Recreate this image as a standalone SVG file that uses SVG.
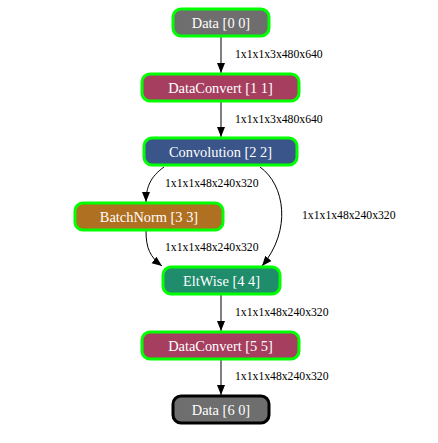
<svg xmlns="http://www.w3.org/2000/svg" width="438" height="443" viewBox="0 0 438 443">
<style>
.n rect{stroke:#00ff00;stroke-width:3}
.n text{font-size:14.4px;fill:#ffffff;text-anchor:middle}
.e path{fill:none;stroke:#000000;stroke-width:1}
.e text{font-size:11.7px;fill:#000000}
</style>
<defs>
<marker id="ah" viewBox="0 0 10 10" refX="10" refY="5" markerWidth="10" markerHeight="10" markerUnits="userSpaceOnUse" orient="auto">
<path d="M0,1 L10,5 L0,9 Z" fill="#000000"/>
</marker>
</defs>
<rect width="438" height="443" fill="#ffffff"/>
<g font-family="Liberation Serif, Times New Roman, DejaVu Serif, serif">
<g id="edges" class="e">
<path d="M221,37 L221,73" marker-end="url(#ah)"/>
<text x="235" y="58">1x1x1x3x480x640</text>
<path d="M221,102 L221,137" marker-end="url(#ah)"/>
<text x="235" y="123">1x1x1x3x480x640</text>
<path d="M164,167 C150,177 146,188 146,202" marker-end="url(#ah)"/>
<text x="165" y="187">1x1x1x48x240x320</text>
<path d="M260,167 C285,185 292,230 262,266" marker-end="url(#ah)"/>
<text x="302" y="219">1x1x1x48x240x320</text>
<path d="M146,231 C146,248 150,257 162,266" marker-end="url(#ah)"/>
<text x="165" y="251">1x1x1x48x240x320</text>
<path d="M221,295 L221,331" marker-end="url(#ah)"/>
<text x="235" y="316">1x1x1x48x240x320</text>
<path d="M221,360 L221,395" marker-end="url(#ah)"/>
<text x="235" y="380">1x1x1x48x240x320</text>
</g>
<g id="n0" class="n"><rect x="173" y="9" width="96" height="27" rx="8" fill="#6e6e6e"/><text x="221" y="27.5">Data [0 0]</text></g>
<g id="n1" class="n"><rect x="142" y="74" width="157" height="27" rx="8" fill="#a63f5f"/><text x="220.5" y="92.5">DataConvert [1 1]</text></g>
<g id="n2" class="n"><rect x="144" y="138" width="153" height="27" rx="8" fill="#3a5589"/><text x="220.5" y="156.5">Convolution [2 2]</text></g>
<g id="n3" class="n"><rect x="75" y="203" width="148" height="27" rx="8" fill="#b07021"/><text x="149" y="221.5">BatchNorm [3 3]</text></g>
<g id="n4" class="n"><rect x="163" y="267" width="117" height="27" rx="8" fill="#1f8c6b"/><text x="221.5" y="285.5">EltWise [4 4]</text></g>
<g id="n5" class="n"><rect x="142" y="332" width="157" height="27" rx="8" fill="#a63f5f"/><text x="220.5" y="350.5">DataConvert [5 5]</text></g>
<g id="n6" class="n"><rect x="173" y="396" width="96" height="27" rx="8" fill="#6e6e6e" style="stroke:#000000"/><text x="221" y="414.5">Data [6 0]</text></g>
</g>
</svg>
